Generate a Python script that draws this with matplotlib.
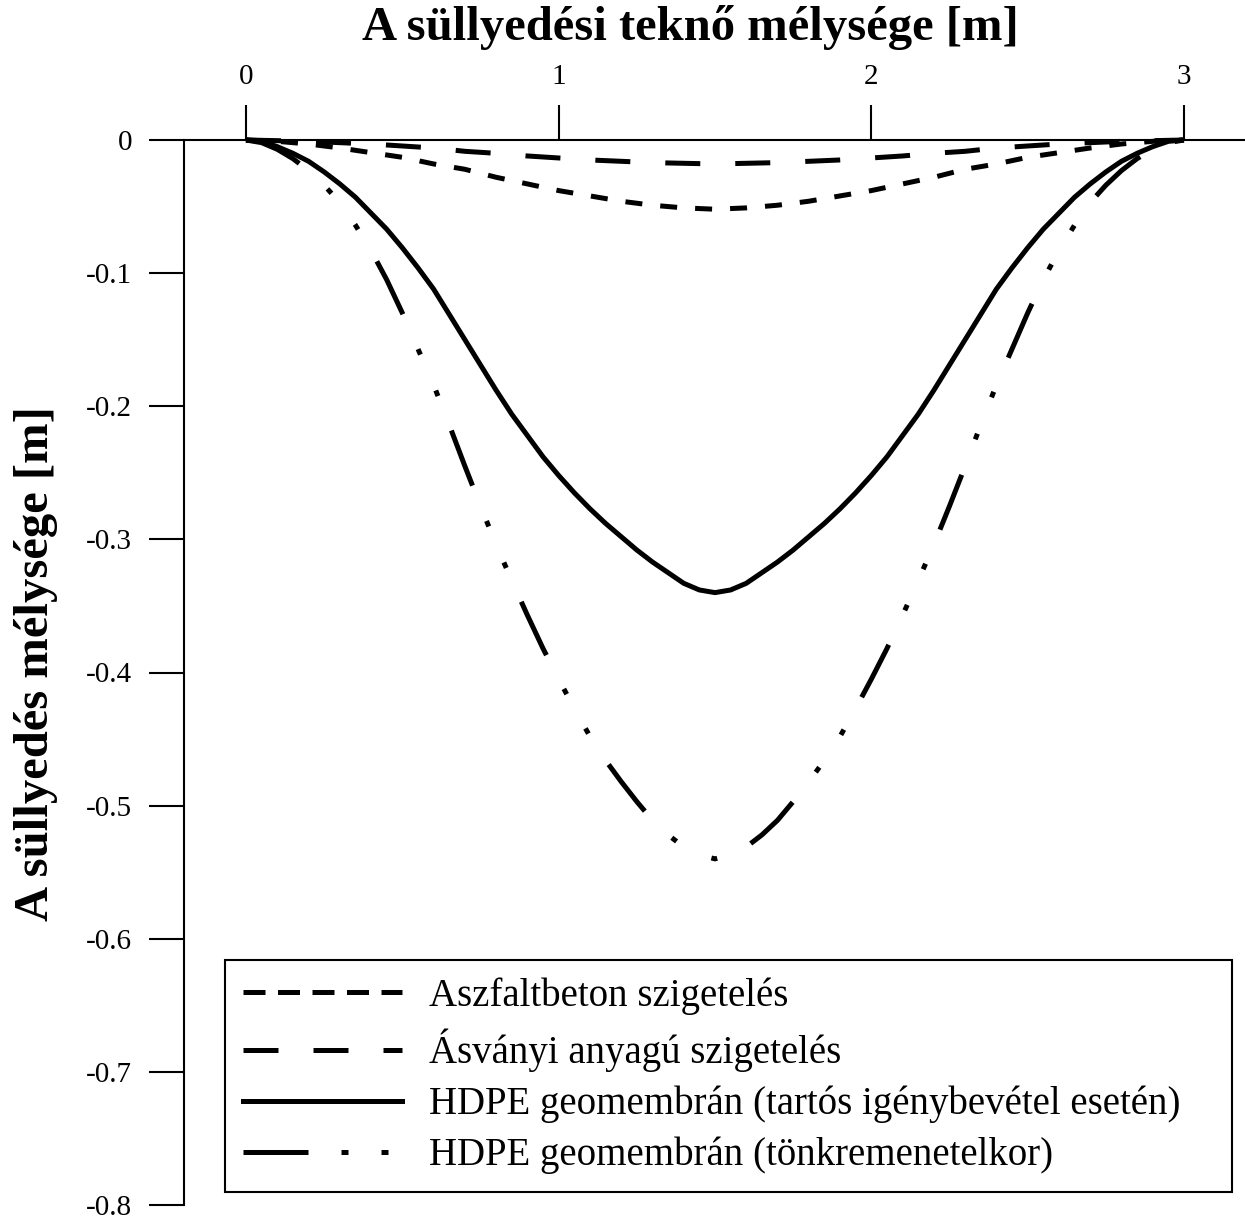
import matplotlib
matplotlib.use("Agg")
import matplotlib.pyplot as plt
from matplotlib.lines import Line2D

plt.rcParams['font.family'] = ['Liberation Serif', 'DejaVu Serif']

# distance across the trough [m]
x = [0.0, 0.1, 0.2, 0.3, 0.4, 0.5, 0.6, 0.7, 0.8, 0.9, 1.0,
     1.1, 1.2, 1.3, 1.4, 1.5, 1.6, 1.7, 1.8, 1.9, 2.0,
     2.1, 2.2, 2.3, 2.4, 2.5, 2.6, 2.7, 2.8, 2.9, 3.0]
x_fine = [0.0, 0.05, 0.1, 0.15, 0.2, 0.25, 0.3, 0.35, 0.4, 0.45, 0.5,
          0.55, 0.6, 0.65, 0.7, 0.75, 0.8, 0.85, 0.9, 0.95, 1.0,
          1.05, 1.1, 1.15, 1.2, 1.25, 1.3, 1.35, 1.4, 1.45, 1.5,
          1.55, 1.6, 1.65, 1.7, 1.75, 1.8, 1.85, 1.9, 1.95, 2.0,
          2.05, 2.1, 2.15, 2.2, 2.25, 2.3, 2.35, 2.4, 2.45, 2.5,
          2.55, 2.6, 2.65, 2.7, 2.75, 2.8, 2.85, 2.9, 2.95, 3.0]

# settlement depth [m] per lining type
aszfalt = [0, -0.001, -0.003, -0.006, -0.0095, -0.013, -0.018, -0.022, -0.028, -0.033, -0.038,
           -0.042, -0.046, -0.049, -0.051, -0.052, -0.051, -0.049, -0.046, -0.042, -0.038,
           -0.033, -0.028, -0.022, -0.018, -0.013, -0.0095, -0.006, -0.003, -0.001, 0]
asvanyi = [0, -0.0005, -0.001, -0.002, -0.003, -0.0045, -0.006, -0.0085, -0.010, -0.012, -0.0135,
           -0.015, -0.016, -0.017, -0.0175, -0.018, -0.0175, -0.017, -0.016, -0.015, -0.0135,
           -0.012, -0.010, -0.0085, -0.006, -0.0045, -0.003, -0.002, -0.001, -0.0005, 0]
hdpe_tartos = [0, -0.001, -0.005, -0.010, -0.016, -0.024, -0.033, -0.043, -0.055, -0.067, -0.081,
               -0.096, -0.112, -0.131, -0.150, -0.169, -0.188, -0.206, -0.222, -0.238, -0.252,
               -0.265, -0.277, -0.288, -0.298, -0.308, -0.317, -0.325, -0.333, -0.338, -0.340,
               -0.338, -0.333, -0.325, -0.317, -0.308, -0.298, -0.288, -0.277, -0.265, -0.252,
               -0.238, -0.222, -0.206, -0.188, -0.169, -0.150, -0.131, -0.112, -0.096, -0.081,
               -0.067, -0.055, -0.043, -0.033, -0.024, -0.016, -0.010, -0.005, -0.001, 0]
hdpe_tonkr = [0, -0.002, -0.007, -0.014, -0.023, -0.034, -0.047, -0.064, -0.083, -0.105, -0.130,
              -0.157, -0.184, -0.214, -0.245, -0.275, -0.304, -0.331, -0.357, -0.382, -0.405,
              -0.427, -0.448, -0.466, -0.482, -0.497, -0.511, -0.522, -0.531, -0.537, -0.540,
              -0.537, -0.531, -0.522, -0.511, -0.497, -0.482, -0.466, -0.448, -0.427, -0.405,
              -0.382, -0.357, -0.331, -0.304, -0.275, -0.245, -0.214, -0.184, -0.157, -0.130,
              -0.105, -0.083, -0.064, -0.047, -0.034, -0.023, -0.014, -0.007, -0.002, 0]

labels = ['Aszfaltbeton szigetelés',
          'Ásványi anyagú szigetelés',
          'HDPE geomembrán (tartós igénybevétel esetén)',
          'HDPE geomembrán (tönkremenetelkor)']

lw = 3.6
styles = [(0, (3.4, 3.6)),
          (0, (7, 7)),
          '-',
          (0, (11.8, 7.6, 1.2, 7.8, 1.2, 7.4))]
legend_styles = [(0, (4.4, 2.5)),
                 (0, (7.0, 7.0)),
                 '-',
                 (0, (13, 6.6, 1.4, 6.6, 1.4, 6.6))]

fig = plt.figure(figsize=(12.45, 12.17), dpi=100)
ax = fig.add_axes([183.5 / 1245, 12 / 1217, 1063 / 1245, 1065 / 1217])

series = [(x, aszfalt), (x, asvanyi), (x_fine, hdpe_tartos), (x_fine, hdpe_tonkr)]
for (xs, ys), ls in zip(series, styles):
    ax.plot(xs, ys, color='black', lw=lw, linestyle=ls, clip_on=False,
            dash_capstyle='butt', solid_capstyle='butt', solid_joinstyle='round')

ax.set_xlim(-0.2, 3.2)
ax.set_ylim(-0.8, 0)
ax.set_xticks([0, 1, 2, 3])
ax.set_xticklabels(['0', '1', '2', '3'])
ax.set_yticks([0, -0.1, -0.2, -0.3, -0.4, -0.5, -0.6, -0.7, -0.8])
ax.set_yticklabels(['0', '-0.1', '-0.2', '-0.3', '-0.4', '-0.5', '-0.6', '-0.7', '-0.8'])

ax.spines['right'].set_visible(False)
ax.spines['bottom'].set_visible(False)
ax.spines['left'].set_linewidth(1.5)
ax.spines['top'].set_linewidth(1.5)
ax.xaxis.tick_top()
ax.tick_params(axis='x', direction='out', length=25, width=1.5, pad=11, labelsize=21)
ax.tick_params(axis='y', direction='out', length=25, width=1.5, pad=12, labelsize=21)

ax.xaxis.set_label_position('top')
ax.set_xlabel('A süllyedési teknő mélysége [m]', fontsize=35, fontweight='bold', va='center')
ax.xaxis.set_label_coords((690 - 183.5) / 1063, 1 + (140 - 27) / 1065)
ax.set_ylabel('A süllyedés mélysége [m]', fontsize=35, fontweight='bold', va='center')
ax.yaxis.set_label_coords((36 - 183.5) / 1063, (1205 - 664) / 1065)

handles = [Line2D([], [], color='black', lw=lw, linestyle=ls, dash_capstyle='butt')
           for ls in legend_styles]
leg = ax.legend(handles, labels, loc='upper left', mode='expand',
                bbox_to_anchor=(225 / 1245, 27 / 1217, 1007 / 1245, 230 / 1217),
                bbox_transform=fig.transFigure,
                fontsize=28, frameon=True, fancybox=False, framealpha=1,
                edgecolor='black', handlelength=4.1, handletextpad=0.7,
                labelspacing=0.35, borderpad=0.45, borderaxespad=0)
leg.get_frame().set_linewidth(1.5)

fig.savefig('out.png', dpi=100)
